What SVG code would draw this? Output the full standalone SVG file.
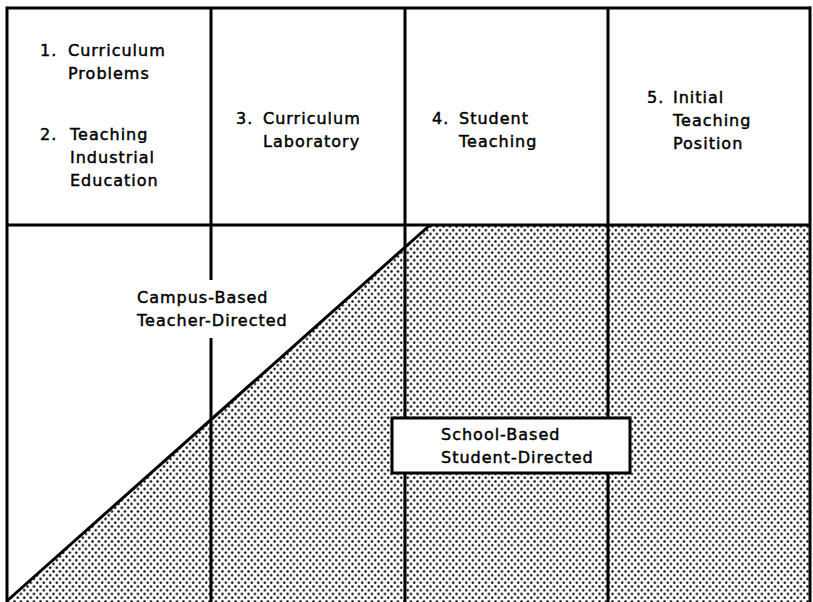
<svg xmlns="http://www.w3.org/2000/svg" width="813" height="602" viewBox="0 0 813 602">
<style>
.ln{stroke:#000;stroke-width:3;fill:none}
.box{stroke:#000;stroke-width:3;fill:#fff}
.t{font-family:"DejaVu Sans","Liberation Sans",sans-serif;font-size:16px;letter-spacing:1px;fill:#000;stroke:#000;stroke-width:0.45px}
</style>
<defs>
<pattern id="dots" width="6.5" height="7.5" patternUnits="userSpaceOnUse">
<circle cx="1.5" cy="1.5" r="1.25" fill="#000"/>
<circle cx="4.75" cy="5.25" r="1.25" fill="#000"/>
</pattern>
</defs>
<rect width="813" height="602" fill="#fff"/>
<g id="shading">
<polygon points="8,600 430,225 810,225 810,602 8,602" fill="url(#dots)"/>
</g>
<g id="connectors">
<line class="ln" x1="7" y1="8" x2="811" y2="8"/>
<line class="ln" x1="7" y1="6.5" x2="7" y2="602"/>
<line class="ln" x1="810" y1="6.5" x2="810" y2="602"/>
<line class="ln" x1="7" y1="225" x2="810" y2="225"/>
<line class="ln" x1="211" y1="8" x2="211" y2="280"/>
<line class="ln" x1="211" y1="338" x2="211" y2="602"/>
<line class="ln" x1="405" y1="8" x2="405" y2="602"/>
<line class="ln" x1="608" y1="8" x2="608" y2="602"/>
<line class="ln" x1="8" y1="600" x2="430" y2="225"/>
</g>
<g id="node1">
<text class="t" x="40" y="56">1.</text>
<text class="t" x="68" y="56">Curriculum</text>
<text class="t" x="68" y="79">Problems</text>
</g>
<g id="node2">
<text class="t" x="40" y="140">2.</text>
<text class="t" x="70" y="140">Teaching</text>
<text class="t" x="70" y="163">Industrial</text>
<text class="t" x="70" y="186">Education</text>
</g>
<g id="node3">
<text class="t" x="236" y="124">3.</text>
<text class="t" x="263" y="124">Curriculum</text>
<text class="t" x="263" y="147">Laboratory</text>
</g>
<g id="node4">
<text class="t" x="432" y="124">4.</text>
<text class="t" x="459" y="124">Student</text>
<text class="t" x="459" y="147">Teaching</text>
</g>
<g id="node5">
<text class="t" x="647" y="103">5.</text>
<text class="t" x="673" y="103">Initial</text>
<text class="t" x="673" y="126">Teaching</text>
<text class="t" x="673" y="149">Position</text>
</g>
<g id="campus">
<text class="t" x="137" y="303">Campus-Based</text>
<text class="t" x="137" y="326">Teacher-Directed</text>
</g>
<g id="school">
<rect class="box" x="392" y="418" width="238" height="55"/>
<text class="t" x="441" y="440">School-Based</text>
<text class="t" x="441" y="463">Student-Directed</text>
</g>
</svg>
